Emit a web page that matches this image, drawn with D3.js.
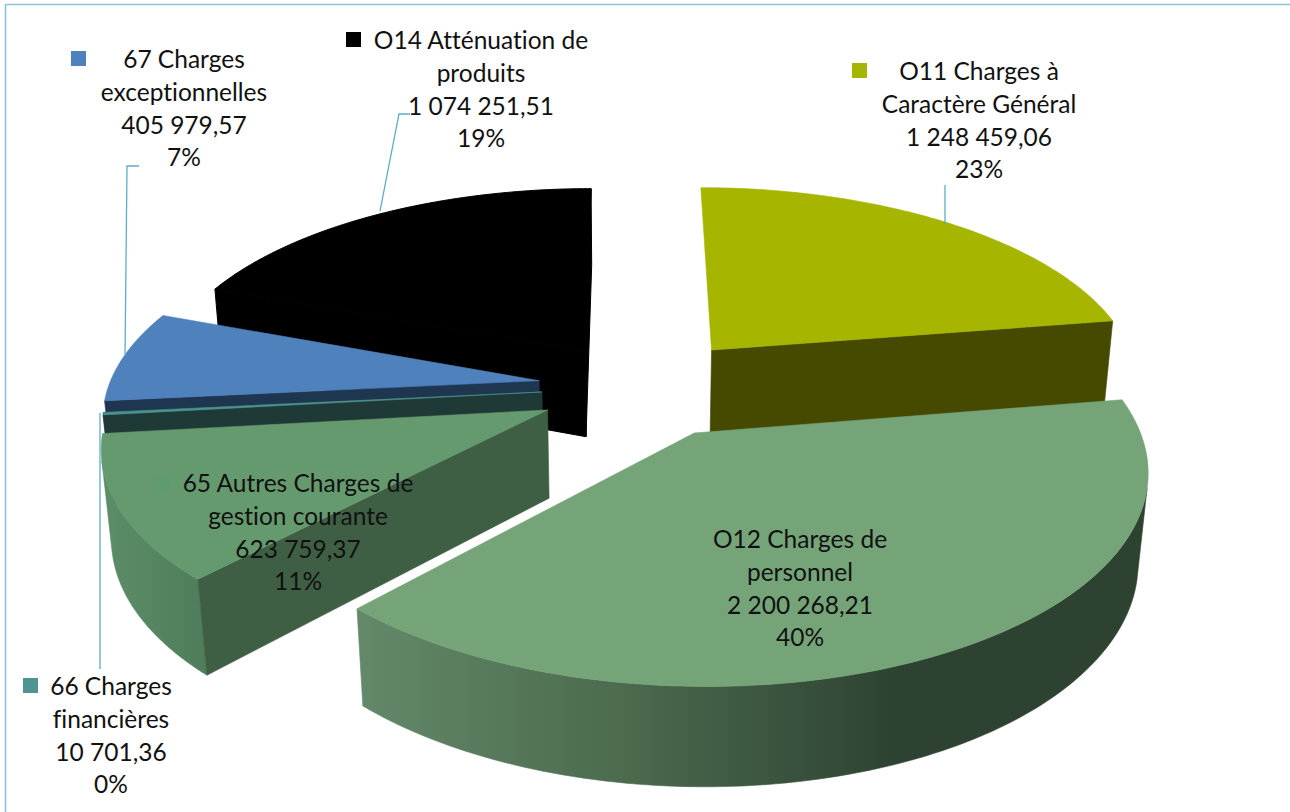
<!DOCTYPE html>
<html>
<head>
<meta charset="utf-8">
<script src="https://cdn.jsdelivr.net/npm/d3@7"></script>
<style>
html, body { margin: 0; padding: 0; background: #fff; }
svg { display: block; }
text { font-family: Lato, "Open Sans", sans-serif; font-size: 24.5px; fill: #111; text-anchor: middle; font-variant-ligatures: none; }
</style>
</head>
<body>
<div id="main"></div>
<script>
// values, in pie order (clockwise from the top)
var names = [
  ["O11 Charges à", "Caractère Général"],
  ["O12 Charges de", "personnel"],
  ["65 Autres Charges de", "gestion courante"],
  ["66 Charges", "financières"],
  ["67 Charges", "exceptionnelles"],
  ["O14 Atténuation de", "produits"]
];
var values = [1248459.06, 2200268.21, 623759.37, 10701.36, 405979.57, 1074251.51];
var percents = ["23%", "40%", "11%", "0%", "7%", "19%"];

// how far each slice is pulled out of the pie, in pie radii
var pullX = [0.195, 0.144, -0.188, -0.204, -0.212, -0.107];
var pullY = [0.182, -0.234, -0.124, -0.035, 0.022, 0.175];

var topColors = ["#a5b500", "#76a479", "#659a6f", "#4b9490", "#4f81bd", "#000000"];
var wallColors = ["#454a00", "#2e4332", "#3f5f45", "#1f3a36", "#1f3650", "#000000"];
var keyColors = ["#a5b500", "#76a479", "#5f9a70", "#4f9490", "#4f81bd", "#000000"];
var paintOrder = [5, 0, 4, 3, 2, 1];

// label anchors: centre x, first baseline, legend key x
var labelX = [979, 800, 298, 111, 184, 481];
var labelY = [80, 548, 492, 695, 68, 49];
var keyX = [852, 698, 155, 23, 71, 346];
var lineGap = 32.8;

// leader lines
var leaders = [
  [[945, 185], [945, 224]],
  [[410, 114], [399, 114], [380, 211]],
  [[139, 166], [127, 166], [125, 356]],
  [[100, 413], [100, 669]]
];

var w = 1290, h = 812;

// camera
var cx = 630, cy = 385, F = 2464, D = 5.73, elev = 27.35 * Math.PI / 180, thick = 0.232;
var cosE = Math.cos(elev), sinE = Math.sin(elev);

function project(X, Y, Z) {
  var u = Y * sinE + Z * cosE;
  var d = D + Y * cosE - Z * sinE;
  return [cx + F * X / d, cy - F * u / d];
}

// which side of the line a-b the point p falls on
function side(a, b, p) {
  return (b[0] - a[0]) * (p[1] - a[1]) - (b[1] - a[1]) * (p[0] - a[0]);
}

var svg = d3.select("#main").append("svg").attr("width", w).attr("height", h);
var defs = svg.append("defs");

function addGradient(id, x1, x2, stops) {
  var g = defs.append("linearGradient").attr("id", id)
    .attr("gradientUnits", "userSpaceOnUse")
    .attr("x1", x1).attr("x2", x2).attr("y1", 0).attr("y2", 0);
  stops.forEach(function (s) {
    g.append("stop").attr("offset", s[0]).attr("stop-color", s[1]);
  });
}
addGradient("wall1", 360, 900, [[0, "#63886a"], [0.5, "#4b6a4e"], [1, "#2d4231"]]);
addGradient("wall2", 100, 210, [[0, "#5c8e69"], [1, "#4f7c5a"]]);

// chart frame, top and left only
svg.append("path").attr("d", "M5.5," + h + "V4.5H" + w)
  .attr("fill", "none").attr("stroke", "#8fc3d8").attr("stroke-width", 1.6);

var arcs = d3.pie().sort(null).value(function (d) { return d; })(values);
var line = d3.line();

function face(g, pts, fill, sw) {
  g.append("path").attr("fill", fill).attr("stroke", fill).attr("stroke-width", sw)
    .attr("d", line(pts) + "Z");
}

paintOrder.forEach(function (i) {
  var a = arcs[i];
  var ox = pullX[i], oy = pullY[i];
  var sw = i === 5 ? 1 : 0.6;
  var steps = d3.range(0, 121).map(function (k) {
    return a.startAngle + (a.endAngle - a.startAngle) * k / 120;
  });
  function pts(list, z) {
    return list.map(function (t) { return project(ox + Math.sin(t), oy + Math.cos(t), z); });
  }
  var topRim = pts(steps, 0), lowRim = pts(steps, -thick);
  var apexTop = project(ox, oy, 0), apexLow = project(ox, oy, -thick);

  var g = svg.append("g").attr("class", "slice");
  var outerFill = i === 1 ? "url(#wall1)" : i === 2 ? "url(#wall2)" : wallColors[i];

  // outer wall, only the part that turns towards the camera
  var seen = steps.filter(function (t) {
    return 1 + ox * Math.sin(t) + (oy + D * cosE) * Math.cos(t) < 0;
  });
  if (seen.length > 1) {
    face(g, pts(seen, 0).concat(pts(seen, -thick).reverse()), outerFill, sw);
  }

  // cut walls, same test. the left wall of O11 does not show in the original
  [[0, 120], [120, 0]].forEach(function (e) {
    if (i === 0 && e[0] === 0) return;
    var inside = side(apexTop, topRim[e[0]], topRim[e[1]]);
    var below = side(apexTop, topRim[e[0]], lowRim[e[0]]);
    if (inside * below < 0 || i === 3) {
      face(g, [apexTop, topRim[e[0]], lowRim[e[0]], apexLow], wallColors[i], sw);
    }
  });

  // top face
  face(g, [apexTop].concat(topRim), topColors[i], sw);
});

svg.selectAll("path.leader").data(leaders).enter().append("path")
  .attr("class", "leader")
  .attr("d", function (d) { return line(d); })
  .attr("fill", "none").attr("stroke", "#5badc8").attr("stroke-width", 1.3);

var nf = d3.formatLocale({ decimal: ",", thousands: " ", grouping: [3], currency: ["", ""] }).format(",.2f");

var labels = svg.selectAll("g.label").data(values).enter().append("g").attr("class", "label");
labels.append("rect")
  .attr("x", function (d, i) { return keyX[i]; })
  .attr("y", function (d, i) { return labelY[i] - 17; })
  .attr("width", 15).attr("height", 15)
  .attr("fill", function (d, i) { return keyColors[i]; });
labels.append("text").each(function (d, i) {
  var rows = names[i].concat([nf(d), percents[i]]);
  d3.select(this).selectAll("tspan").data(rows).enter().append("tspan")
    .attr("x", labelX[i])
    .attr("y", function (r, j) { return labelY[i] + j * lineGap; })
    .text(function (r) { return r; });
});
</script>
</body>
</html>
